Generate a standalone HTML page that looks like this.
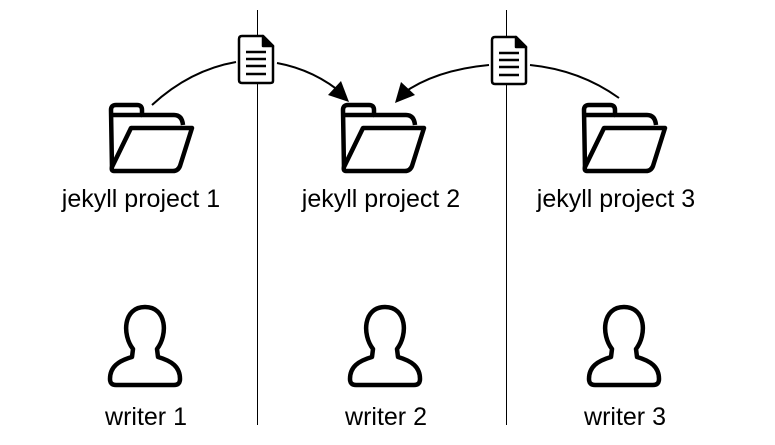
<!DOCTYPE html>
<html><head><style>
html,body{margin:0;padding:0;background:#fff;}
svg{display:block;}
text{font-family:"Liberation Sans",Arial,sans-serif;font-size:25px;fill:#000;text-anchor:middle;}
</style></head><body>
<svg width="775" height="445" viewBox="0 0 775 445">
<defs>
<g id="folder" fill="none" stroke="#000" stroke-width="4.5" stroke-linejoin="round">
<path d="M4,66 L3,7 Q3,2 8,2 L29,2 Q34,2 34,7 L34,12 L66,12 Q74,12 75,22"/>
<path d="M3,12 L34,12"/>
<path d="M23,25 L84,25 L72,63 Q70,68 65,68 L6,68 Q3,68 4,64 Z" fill="#fff"/>
</g>
<g id="doc" stroke="#000" stroke-width="2.5" stroke-linejoin="round">
<path d="M2,4 Q2,1 5,1 L26,1 L36,11 L36,46 Q36,48 33,48 L5,48 Q2,48 2,45 Z" fill="#fff"/>
<path d="M26,1 L36,11 L26,11 Z" fill="#000"/>
<path d="M9,17 H29 M9,24 H29 M9,31 H29 M9,39 H29" fill="none"/>
</g>
<g id="person" fill="none" stroke="#000" stroke-width="4.5" stroke-linejoin="round">
<path d="M23,44 C12,30 13,2 35,2 C57,2 58,30 47,44 L48,52 C62,56 70,62 70,74 Q70,80 64,80 L6,80 Q0,80 0,74 C0,62 8,56 22,52 Z"/>
</g>
</defs>
<line x1="257.5" y1="10" x2="257.5" y2="425" stroke="#000" stroke-width="1"/>
<line x1="506.5" y1="10" x2="506.5" y2="425" stroke="#000" stroke-width="1"/>

<path d="M152,105 Q190,70 236,62" fill="none" stroke="#000" stroke-width="2"/>
<path d="M277,63 Q315,70 344,95" fill="none" stroke="#000" stroke-width="2"/>
<polygon points="349,102 328,95 341,81" fill="#000"/>
<path d="M619,98 Q580,70 530,65" fill="none" stroke="#000" stroke-width="2"/>
<path d="M489,65 Q435,70 402,94" fill="none" stroke="#000" stroke-width="2"/>
<polygon points="395,103 401,82 415,95" fill="#000"/>

<use href="#doc" x="237" y="35"/>
<use href="#doc" x="490" y="36"/>

<use href="#folder" x="108" y="103"/>
<use href="#folder" x="340" y="103"/>
<use href="#folder" x="581" y="103"/>

<use href="#person" x="110" y="305"/>
<use href="#person" x="350" y="305"/>
<use href="#person" x="589" y="305"/>

<text x="141" y="207">jekyll project 1</text>
<text x="381" y="207">jekyll project 2</text>
<text x="616" y="207">jekyll project 3</text>
<text x="146" y="425">writer 1</text>
<text x="386" y="425">writer 2</text>
<text x="625" y="425">writer 3</text>
</svg>
</body></html>
